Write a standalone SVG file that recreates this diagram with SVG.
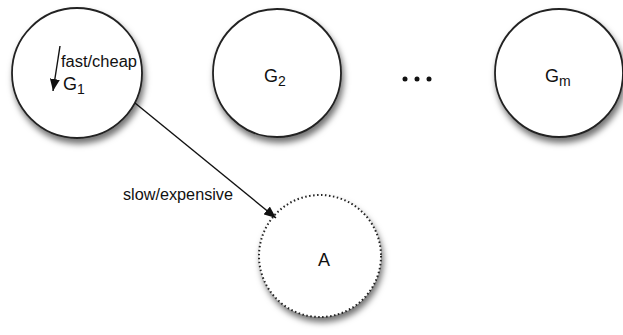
<svg xmlns="http://www.w3.org/2000/svg" width="623" height="335" viewBox="0 0 623 335">
<style>
.node{fill:#fff;stroke:#222;stroke-width:1.8;filter:url(#sh)}
.dash{stroke-dasharray:1.5 2.5;stroke-width:2}
text{font-family:"Liberation Sans",Arial,sans-serif;fill:#111}
.lbl{font-size:18px}
.sub{font-size:14px}
.sm{font-size:16px}
.edge{stroke:#111;stroke-width:1.4;fill:none;marker-end:url(#ah)}
</style>
<defs>
<filter id="sh" x="-20%" y="-20%" width="150%" height="150%">
<feDropShadow dx="2" dy="5" stdDeviation="3" flood-color="#000" flood-opacity="0.55"/>
</filter>
<marker id="ah" viewBox="0 0 12 10" refX="12" refY="5" markerWidth="12" markerHeight="10" orient="auto" markerUnits="userSpaceOnUse">
<path d="M0,0 L12,5 L0,10 z" fill="#111"/>
</marker>
</defs>
<g id="G1">
<circle class="node" cx="77" cy="73" r="65"/>
<text class="sm" x="61" y="67" textLength="76" lengthAdjust="spacingAndGlyphs">fast/cheap</text>
<text class="lbl" x="63" y="90">G<tspan class="sub" dy="4">1</tspan></text>
</g>
<g id="G2">
<circle class="node" cx="277" cy="73" r="64"/>
<text class="lbl" x="264" y="82">G<tspan class="sub" dy="4">2</tspan></text>
</g>
<g id="dots">
<circle cx="405" cy="79" r="2.5" fill="#111"/>
<circle cx="417" cy="79" r="2.5" fill="#111"/>
<circle cx="429" cy="79" r="2.5" fill="#111"/>
</g>
<g id="Gm">
<circle class="node" cx="559" cy="73" r="64"/>
<text class="lbl" x="545" y="82">G<tspan class="sub" dy="4">m</tspan></text>
</g>
<g id="A">
<circle class="node dash" cx="320" cy="256" r="61"/>
<text class="lbl" x="318" y="266" font-size="16">A</text>
</g>
<g id="connectors">
<line class="edge" x1="60" y1="46" x2="53" y2="91"/>
<line class="edge" x1="135" y1="103" x2="276" y2="218"/>
<text class="sm" x="123" y="200" textLength="110" lengthAdjust="spacingAndGlyphs">slow/expensive</text>
</g>
</svg>
